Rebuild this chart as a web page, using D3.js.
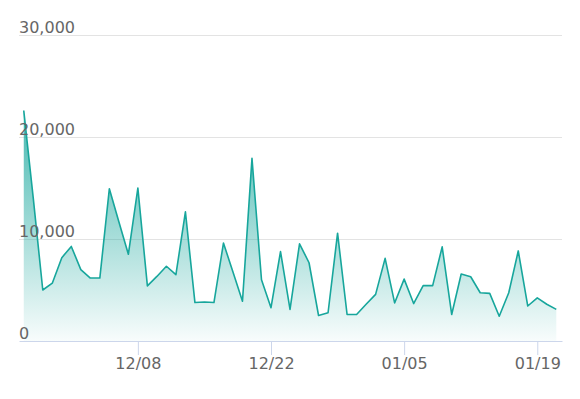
<!DOCTYPE html>
<html>
<head>
<meta charset="utf-8">
<script src="https://cdn.jsdelivr.net/npm/d3@7"></script>
<style>
  html, body { margin: 0; padding: 0; background: #ffffff; }
  svg { display: block; }
</style>
</head>
<body>
<svg id="chart" width="580" height="399"></svg>
<script>
// ---- data ----
const startDate = "2023-11-26";
const values = [
  22600, 14000, 5000, 5670, 8170, 9270, 7000, 6170, 6170, 14930,
  11700, 8500, 15000, 5400, 6330, 7330, 6500, 12670, 3770, 3830,
  3770, 9600, 6770, 3900, 17900, 6000, 3270, 8770, 3100, 9530,
  7670, 2500, 2770, 10570, 2600, 2600, 3600, 4570, 8100, 3730,
  6070, 3670, 5430, 5430, 9230, 2600, 6570, 6300, 4730, 4670,
  2430, 4730, 8830, 3430, 4230, 3600, 3100
];
const yTicks = [0, 10000, 20000, 30000];
const xTickLabels = ["12/08", "12/22", "01/05", "01/19"];
const xTickDates = ["2023-12-08", "2023-12-22", "2024-01-05", "2024-01-19"];

// ---- build ----
const parse = d3.utcParse("%Y-%m-%d");
const DAY = 24 * 3600 * 1000;
const t0 = parse(startDate);
const data = values.map((v, i) => ({ date: new Date(t0.getTime() + i * DAY), value: v }));

const svg = d3.select("#chart");
const mLeft = 19, mRight = 562, mTop = 35, mBottom = 341;

const x = d3.scaleUtc()
  .domain([new Date(t0.getTime() - 0.5 * DAY), new Date(t0.getTime() + 56.6 * DAY)])
  .range([mLeft, mRight]);
const y = d3.scaleLinear().domain([0, 30000]).range([mBottom, mTop]);

const lineColor = "#17a69c";

const defs = svg.append("defs");
const grad = defs.append("linearGradient")
  .attr("id", "areaGrad").attr("x1", 0).attr("y1", 0).attr("x2", 0).attr("y2", 1);
grad.append("stop").attr("offset", "0%").attr("stop-color", lineColor).attr("stop-opacity", 0.8);
grad.append("stop").attr("offset", "100%").attr("stop-color", lineColor).attr("stop-opacity", 0.03);

// gridlines
svg.append("g").selectAll("line")
  .data(yTicks.filter(d => d > 0))
  .join("line")
  .attr("x1", mLeft).attr("x2", mRight)
  .attr("y1", d => Math.round(y(d)) + 0.5).attr("y2", d => Math.round(y(d)) + 0.5)
  .attr("stroke", "#e3e3e3").attr("stroke-width", 1);

// area + line
const area = d3.area().x(d => x(d.date)).y0(y(0)).y1(d => y(d.value));
const line = d3.line().x(d => x(d.date)).y(d => y(d.value));

svg.append("path").datum(data).attr("d", area).attr("fill", "url(#areaGrad)");
svg.append("path").datum(data).attr("d", line)
  .attr("fill", "none").attr("stroke", lineColor).attr("stroke-width", 1.6)
  .attr("stroke-linejoin", "round");

// x axis
const xAxis = d3.axisBottom(x)
  .tickValues(xTickDates.map(parse))
  .tickFormat((d, i) => xTickLabels[i])
  .tickSizeOuter(0)
  .tickSizeInner(14)
  .tickPadding(3);
const gx = svg.append("g").attr("transform", `translate(0,${mBottom})`).call(xAxis);
gx.select(".domain").attr("stroke", "#ccd6eb");
gx.selectAll(".tick line").attr("stroke", "#ccd6eb");
gx.selectAll(".tick text")
  .attr("fill", "#666666")
  .style("font-family", "'DejaVu Sans', sans-serif")
  .style("font-size", "16px");

// y labels (left aligned, above gridlines)
const yAxis = d3.axisLeft(y).tickValues(yTicks).tickFormat(d3.format(",")).tickSize(0);
const gy = svg.append("g").attr("transform", `translate(${mLeft},0)`).call(yAxis);
gy.select(".domain").remove();
gy.selectAll(".tick text")
  .attr("x", 0).attr("dy", "-3").attr("text-anchor", "start")
  .attr("fill", "#666666")
  .style("font-family", "'DejaVu Sans', sans-serif")
  .style("font-size", "16px");
</script>
</body>
</html>
